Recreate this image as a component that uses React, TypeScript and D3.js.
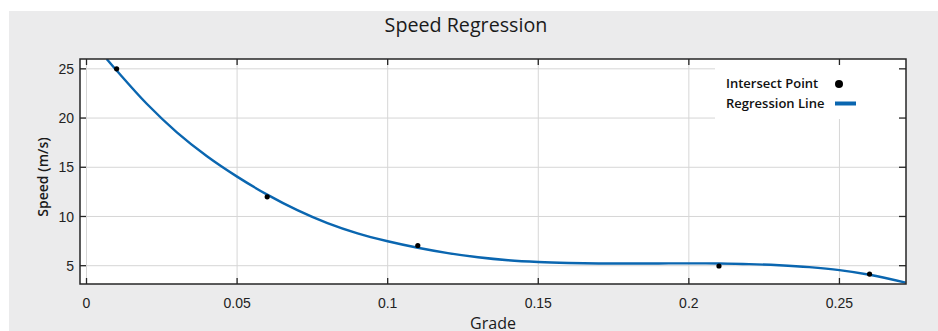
import React, { useEffect, useRef } from 'react';
import * as d3 from 'd3';

// measured intersect points
const pointGrade = [0.01, 0.06, 0.11, 0.21, 0.26];
const pointSpeed = [25, 12, 7.05, 4.97, 4.15];

// regression line
const lineGrade = [0.0067, 0.01, 0.02, 0.03, 0.04, 0.05, 0.06, 0.07, 0.08, 0.09, 0.1, 0.11, 0.12, 0.13, 0.14, 0.15, 0.16, 0.17, 0.18, 0.19, 0.2, 0.21, 0.22, 0.23, 0.24, 0.25, 0.26, 0.272];
const lineSpeed = [26.0, 24.83, 21.45, 18.55, 16.12, 14.05, 12.22, 10.64, 9.32, 8.28, 7.48, 6.82, 6.28, 5.86, 5.56, 5.38, 5.28, 5.23, 5.22, 5.23, 5.24, 5.22, 5.16, 5.04, 4.85, 4.55, 4.08, 3.28];

const xTicks = [0, 0.05, 0.1, 0.15, 0.2, 0.25];
const xTickLabels = ['0', '0.05', '0.1', '0.15', '0.2', '0.25'];
const yTicks = [5, 10, 15, 20, 25];

const legendLabels = ['Intersect Point', 'Regression Line'];

export default function App() {
  const ref = useRef<SVGSVGElement>(null);

  useEffect(() => {
    if (!ref.current) return;
    const W = 938, H = 331;
    const plot = { left: 80, right: 906, top: 59, bottom: 284 };
    const blue = '#0a66b0';
    const uiFont = '"Open Sans", sans-serif';
    const tickFont = '"Liberation Sans", Arial, sans-serif';

    const svg = d3.select(ref.current);
    svg.selectAll('*').remove();
    svg.attr('width', W).attr('height', H);

    // page / panel background
    svg.append('rect').attr('width', W).attr('height', H).attr('fill', '#ffffff');
    svg.append('rect').attr('x', 9).attr('y', 11).attr('width', W - 9).attr('height', H - 11).attr('fill', '#ebebec');

    const x = d3.scaleLinear().domain([-0.00216, 0.2721]).range([plot.left, plot.right]);
    const y = d3.scaleLinear().domain([3.14, 26.0]).range([plot.bottom, plot.top]);

    svg.append('rect')
      .attr('x', plot.left).attr('y', plot.top)
      .attr('width', plot.right - plot.left).attr('height', plot.bottom - plot.top)
      .attr('fill', '#ffffff');

    // grid
    const grid = svg.append('g').attr('stroke', '#d6d6d6').attr('stroke-width', 1);
    xTicks.forEach(t => {
      grid.append('line').attr('x1', x(t)).attr('x2', x(t)).attr('y1', plot.top).attr('y2', plot.bottom);
    });
    yTicks.forEach(t => {
      grid.append('line').attr('x1', plot.left).attr('x2', plot.right).attr('y1', y(t)).attr('y2', y(t));
    });

    // legend box (hides grid behind it)
    svg.append('rect').attr('x', 715).attr('y', 63).attr('width', 190).attr('height', 56).attr('fill', '#ffffff');

    const clip = svg.append('clipPath').attr('id', 'plot-clip');
    clip.append('rect').attr('x', plot.left).attr('y', plot.top)
      .attr('width', plot.right - plot.left).attr('height', plot.bottom - plot.top);

    // regression line
    const lineData = lineGrade.map((g, i) => [g, lineSpeed[i]] as [number, number]);
    const line = d3.line<[number, number]>()
      .x(d => x(d[0]))
      .y(d => y(d[1]))
      .curve(d3.curveCatmullRom);
    svg.append('path')
      .datum(lineData)
      .attr('clip-path', 'url(#plot-clip)')
      .attr('d', line)
      .attr('fill', 'none')
      .attr('stroke', blue)
      .attr('stroke-width', 2.4);

    // points
    svg.append('g').selectAll('circle')
      .data(pointGrade.map((g, i) => [g, pointSpeed[i]]))
      .enter().append('circle')
      .attr('cx', d => x(d[0]))
      .attr('cy', d => y(d[1]))
      .attr('r', 2.6)
      .attr('fill', '#000');

    // frame
    svg.append('rect')
      .attr('x', plot.left).attr('y', plot.top)
      .attr('width', plot.right - plot.left).attr('height', plot.bottom - plot.top)
      .attr('fill', 'none').attr('stroke', '#262626').attr('stroke-width', 1.5);

    // ticks
    const ticks = svg.append('g').attr('stroke', '#262626').attr('stroke-width', 1.3);
    xTicks.forEach(t => {
      ticks.append('line').attr('x1', x(t)).attr('x2', x(t)).attr('y1', plot.bottom).attr('y2', plot.bottom - 6);
      ticks.append('line').attr('x1', x(t)).attr('x2', x(t)).attr('y1', plot.top).attr('y2', plot.top + 6);
    });
    yTicks.forEach(t => {
      ticks.append('line').attr('x1', plot.left).attr('x2', plot.left + 6).attr('y1', y(t)).attr('y2', y(t));
      ticks.append('line').attr('x1', plot.right).attr('x2', plot.right - 7).attr('y1', y(t)).attr('y2', y(t));
    });

    // tick labels
    svg.append('g').selectAll('text')
      .data(xTicks)
      .enter().append('text')
      .attr('x', d => x(d))
      .attr('y', 308)
      .attr('text-anchor', 'middle')
      .attr('font-family', tickFont)
      .attr('font-size', 14)
      .attr('fill', '#222')
      .text((d, i) => xTickLabels[i]);

    svg.append('g').selectAll('text')
      .data(yTicks)
      .enter().append('text')
      .attr('x', 74)
      .attr('y', d => y(d))
      .attr('dy', '0.36em')
      .attr('text-anchor', 'end')
      .attr('font-family', tickFont)
      .attr('font-size', 14)
      .attr('fill', '#222')
      .text(d => String(d));

    // title and axis labels
    svg.append('text')
      .attr('x', 466).attr('y', 32)
      .attr('text-anchor', 'middle')
      .attr('font-family', uiFont)
      .attr('font-size', 19.7)
      .attr('fill', '#1a1a1a')
      .text('Speed Regression');

    svg.append('text')
      .attr('x', 493).attr('y', 329)
      .attr('text-anchor', 'middle')
      .attr('font-family', uiFont)
      .attr('font-size', 16)
      .attr('fill', '#1a1a1a')
      .text('Grade');

    svg.append('text')
      .attr('transform', 'translate(48,177) rotate(-90)')
      .attr('text-anchor', 'middle')
      .attr('font-family', uiFont)
      .attr('font-weight', 600)
      .attr('font-size', 14)
      .attr('fill', '#1a1a1a')
      .text('Speed (m/s)');

    // legend
    const legend = svg.append('g');
    legendLabels.forEach((label, i) => {
      legend.append('text')
        .attr('x', 726).attr('y', 88 + i * 20)
        .attr('font-family', uiFont)
        .attr('font-weight', 600)
        .attr('font-size', 13)
        .attr('fill', '#111')
        .text(label);
    });
    legend.append('circle').attr('cx', 839).attr('cy', 84).attr('r', 4).attr('fill', '#000');
    legend.append('line')
      .attr('x1', 835).attr('x2', 856).attr('y1', 103.5).attr('y2', 103.5)
      .attr('stroke', blue).attr('stroke-width', 4);
  }, []);

  return <svg ref={ref} style={{ position: 'absolute', left: 0, top: 0, display: 'block' }} />;
}
